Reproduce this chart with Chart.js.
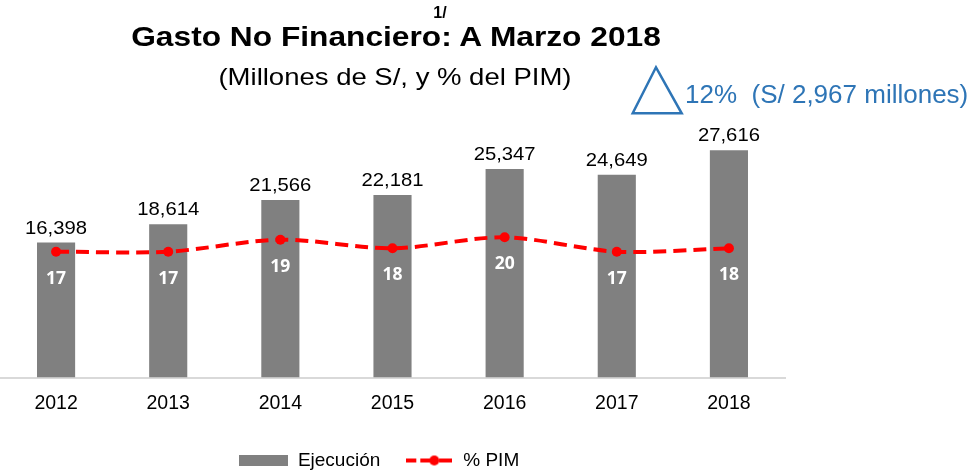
<!DOCTYPE html>
<html>
<head>
<meta charset="utf-8">
<script src="https://cdn.jsdelivr.net/npm/chart.js@4"></script>
<style>
html,body{margin:0;padding:0;background:#fff;overflow:hidden}
#wrap{position:relative;width:980px;height:476px}
#c{position:absolute;left:0;top:0}
.t{position:absolute;white-space:pre;font-family:"Liberation Sans",Arial,sans-serif;line-height:1;color:#000}
.ctr{width:1000px;text-align:center}
svg{position:absolute;left:0;top:0}
</style>
</head>
<body>
<div id="wrap">
  <canvas id="c" width="980" height="476"></canvas>
  <div class="t ctr" style="left:-60px;top:4.5px;font-size:16px;font-weight:bold">1/</div>
  <div class="t ctr" style="left:-104px;top:23px;font-size:28px;font-weight:bold;transform:scaleX(1.132)">Gasto No Financiero: A Marzo 2018</div>
  <div class="t ctr" style="left:-105.5px;top:64.5px;font-size:24px;transform:scaleX(1.146)">(Millones de S/, y % del PIM)</div>
  <svg width="980" height="476"><polygon points="656,67.3 632.7,113.3 681.7,113.3" fill="none" stroke="#2E75B6" stroke-width="2.5"/></svg>
  <div class="t" style="left:685px;top:81.3px;font-size:26px;color:#2E75B6">12%  (S/ 2,967 millones)</div>
</div>
<script>
const categories = ['2012', '2013', '2014', '2015', '2016', '2017', '2018'];
const ejecucion = [16398, 18614, 21566, 22181, 25347, 24649, 27616];
const pimPct = [16.8, 16.8, 19.3, 17.5, 19.8, 16.8, 17.5];
const seriesNames = ['Ejecución', '% PIM'];

const BAR_COLOR = '#808080';
const LINE_COLOR = '#FF0000';
const FONT = '"Liberation Sans", Arial, sans-serif';

function makeBarSwatch() {
  const c = document.createElement('canvas');
  c.width = 49; c.height = 11;
  const g = c.getContext('2d');
  g.fillStyle = BAR_COLOR;
  g.fillRect(0, 0, 49, 11);
  return c;
}
function makeLineSwatch() {
  const c = document.createElement('canvas');
  c.width = 46; c.height = 12;
  const g = c.getContext('2d');
  g.fillStyle = LINE_COLOR;
  g.fillRect(0, 4, 10, 4);
  g.fillRect(14, 4, 10, 4);
  g.fillRect(33, 4, 13, 4);
  g.beginPath(); g.arc(28, 6, 5, 0, Math.PI * 2); g.fill();
  return c;
}
const barSwatch = makeBarSwatch();
const lineSwatch = makeLineSwatch();

const labelPlugin = {
  id: 'valueLabels',
  afterDatasetsDraw(chart) {
    const ctx = chart.ctx;
    const barMeta = chart.getDatasetMeta(0);
    const lineMeta = chart.getDatasetMeta(1);
    ctx.save();
    ctx.fillStyle = '#000';
    ctx.font = '18.6px ' + FONT;
    ctx.textAlign = 'center';
    ctx.textBaseline = 'alphabetic';
    barMeta.data.forEach((bar, i) => {
      ctx.save();
      ctx.translate(bar.x, bar.y - 9);
      ctx.scale(1.09, 1);
      ctx.fillText(ejecucion[i].toLocaleString('en-US'), 0, 0);
      ctx.restore();
    });
    ctx.fillStyle = '#fff';
    ctx.font = 'bold 17.5px "Open Sans", sans-serif';
    ctx.textBaseline = 'middle';
    lineMeta.data.forEach((pt, i) => {
      ctx.fillText(String(Math.round(pimPct[i])), pt.x, pt.y + 27);
    });
    ctx.restore();
  }
};

new Chart(document.getElementById('c'), {
  type: 'bar',
  data: {
    labels: categories,
    datasets: [
      {
        type: 'bar',
        label: seriesNames[0],
        data: ejecucion,
        backgroundColor: BAR_COLOR,
        borderWidth: 0,
        categoryPercentage: 1,
        barPercentage: 0.34,
        yAxisID: 'y',
        order: 2
      },
      {
        type: 'line',
        label: seriesNames[1],
        data: pimPct,
        borderColor: LINE_COLOR,
        backgroundColor: LINE_COLOR,
        borderWidth: 4,
        borderDash: [13, 7],
        tension: 0.3,
        pointRadius: 5,
        pointBorderWidth: 0,
        pointBackgroundColor: LINE_COLOR,
        fill: false,
        yAxisID: 'y1',
        order: 1
      }
    ]
  },
  options: {
    responsive: false,
    animation: false,
    devicePixelRatio: 1,
    layout: { autoPadding: false, padding: { top: 97.75, left: 0, right: 195, bottom: -4 } },
    plugins: {
      tooltip: { enabled: false },
      legend: {
        position: 'bottom',
        align: 'center',
        labels: {
          usePointStyle: true,
          pointStyleWidth: 49,
          boxHeight: 19,
          padding: 24.5,
          color: '#000',
          font: { family: FONT, size: 19 },
          generateLabels() {
            return [
              { text: seriesNames[0], pointStyle: barSwatch, fillStyle: BAR_COLOR, strokeStyle: BAR_COLOR, lineWidth: 0, hidden: false, datasetIndex: 0 },
              { text: seriesNames[1] + '     ', pointStyle: lineSwatch, fillStyle: LINE_COLOR, strokeStyle: LINE_COLOR, lineWidth: 0, hidden: false, datasetIndex: 1 }
            ];
          }
        }
      }
    },
    scales: {
      x: {
        grid: { display: false, drawTicks: false },
        border: { display: true, color: '#d9d9d9', width: 2 },
        ticks: { color: '#000', font: { family: FONT, size: 19.5 }, padding: 14 },
        afterFit(s) { s.height = 49; }
      },
      y: { display: false, min: 0, max: 34000 },
      y1: { display: false, min: -9.41, max: 48.87 }
    }
  },
  plugins: [labelPlugin]
});
</script>
</body>
</html>
